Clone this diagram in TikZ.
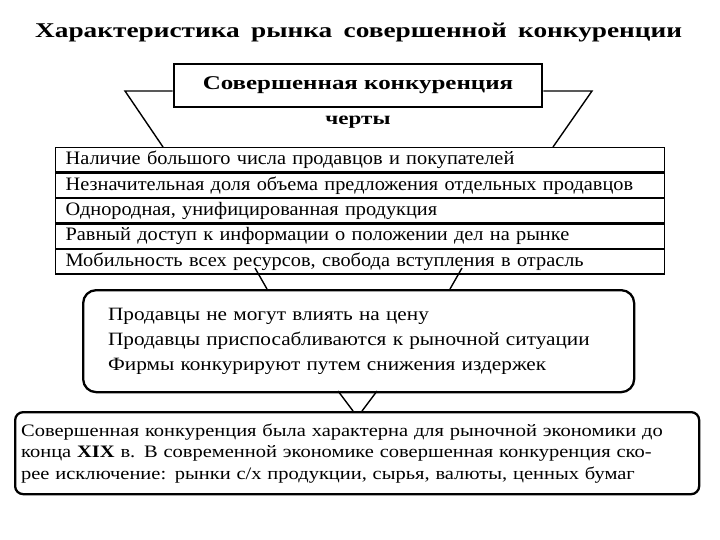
\documentclass[tikz,border=0pt]{standalone}
\usepackage{fontspec}
\setmainfont{Liberation Serif}
\newfontfamily\titlefont[FakeStretch=1.3]{Liberation Serif}
\newfontfamily\headfont[FakeStretch=1.28]{Liberation Serif}
\newfontfamily\rowfont[FakeStretch=1.07]{Liberation Serif}
\newfontfamily\resfont[FakeStretch=1.13]{Liberation Serif}
\newfontfamily\notefont[FakeStretch=1.17]{Liberation Serif}
\begin{document}
\begin{tikzpicture}[x=1pt,y=-1pt,
  rowbox/.style={draw,line width=1.3pt,minimum width=609pt,minimum height=24.2pt,
    text width=589pt,inner xsep=10pt,inner ysep=0pt,align=left,anchor=north west,
    font=\rowfont\fontsize{19}{20}\selectfont},
  funnel/.style={line width=1.4pt},
]
\useasboundingbox (0,0) rectangle (720,540);
\fill[white] (0,0) rectangle (720,540);
% title
\node[anchor=base west,inner sep=0pt,font=\titlefont\bfseries\fontsize{21}{24}\selectfont] (title) at (35,38)
  {\makebox[647pt][s]{Характеристика рынка совершенной конкуренции}};
% top box
\node[draw,line width=2.8pt,minimum width=368pt,minimum height=43pt,inner sep=0pt,
  font=\headfont\bfseries\fontsize{19.5}{22}\selectfont] (top) at (358,85.5) {Совершенная конкуренция};
\node[font=\headfont\bfseries\fontsize{18}{20}\selectfont,inner sep=0pt] (cherty) at (358,122) {черты};
% table rows
\node[rowbox] (r1) at (55,147) {Наличие большого числа продавцов и покупателей};
\node[rowbox] (r2) at (r1.south west) {Незначительная доля объема предложения отдельных продавцов};
\node[rowbox] (r3) at (r2.south west) {Однородная, унифицированная продукция};
\node[rowbox] (r4) at (r3.south west) {Равный доступ к информации о положении дел на рынке};
\node[rowbox] (r5) at (r4.south west) {Мобильность всех ресурсов, свобода вступления в отрасль};
% rounded box
\node[draw,line width=2.3pt,rounded corners=13pt,anchor=north west,minimum width=551pt,
  minimum height=102pt,text width=501pt,inner xsep=25pt,align=left,
  font=\resfont\fontsize{18.8}{25}\selectfont] (res) at (82,289)
  {Продавцы не могут влиять на цену\\
   Продавцы приспосабливаются к рыночной ситуации\\
   Фирмы конкурируют путем снижения издержек};
% bottom box
\node[draw,line width=2.3pt,rounded corners=8pt,anchor=north west,minimum width=684pt,
  minimum height=82pt,text width=672pt,inner xsep=6pt,align=left,
  font=\notefont\fontsize{17.5}{21.5}\selectfont] (note) at (14,411)
  {\makebox[\linewidth][s]{Совершенная конкуренция была характерна для рыночной экономики до}\\
   \makebox[\linewidth][s]{конца \textbf{XIX} в. В современной экономике совершенная конкуренция ско-}\\
   \makebox[\linewidth][s]{рее исключение: рынки с/х продукции, сырья, валюты, ценных бумаг}};
% funnel coordinates
\coordinate (fl) at (125,91);
\coordinate (fr) at (592,91);
\coordinate (tl) at (163,147);
\coordinate (tr) at (553,147);
\coordinate (a1) at (255,268);
\coordinate (a2) at (267,289);
\coordinate (b1) at (462,268);
\coordinate (b2) at (450,289);
\coordinate (c1) at (338,391);
\coordinate (c2) at (353,411);
\coordinate (d1) at (377,391);
\coordinate (d2) at (362,411);
\draw[funnel] (top.west |- fl) -- (fl) -- (tl);
\draw[funnel] (top.east |- fr) -- (fr) -- (tr);
\draw[funnel] (a1) -- (a2);
\draw[funnel] (b1) -- (b2);
\draw[funnel] (c1) -- (c2);
\draw[funnel] (d1) -- (d2);
\end{tikzpicture}
\end{document}
